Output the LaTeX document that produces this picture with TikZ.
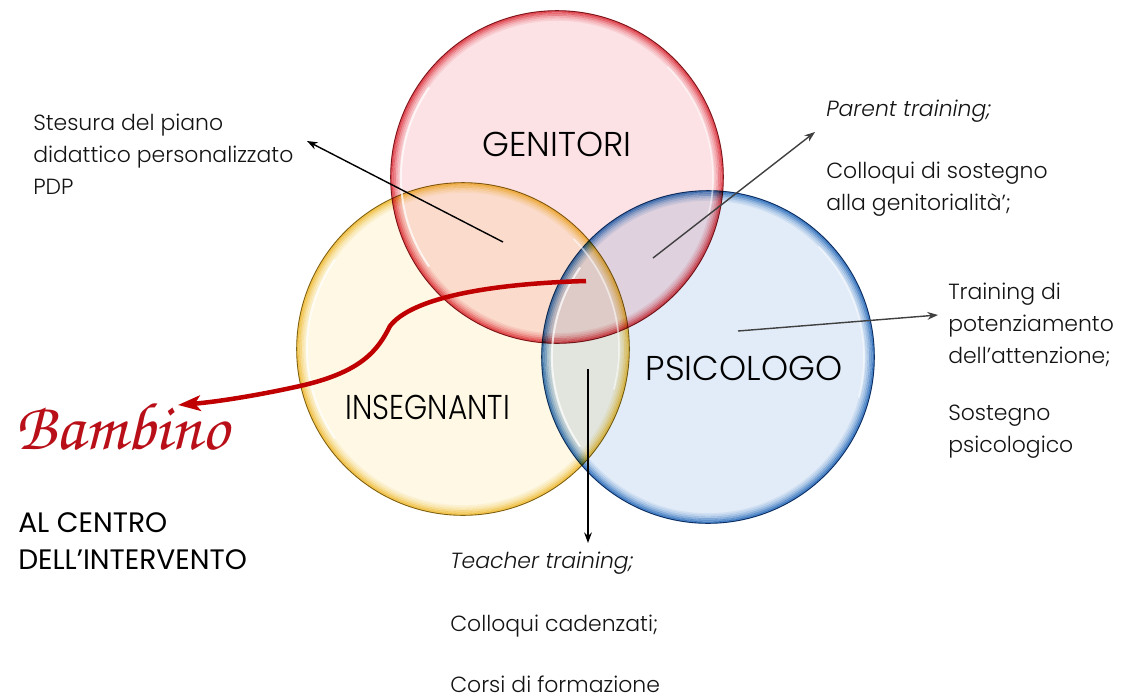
\documentclass[tikz,border=0pt]{standalone}
\usepackage[T1]{fontenc}
\usepackage{fontspec}
\IfFontExistsTF{Poppins Light}{%
  \IfFontExistsTF{Poppins Light Italic}{%
    \setmainfont{Poppins Light}[ItalicFont={Poppins Light Italic}]}{%
    \setmainfont{Poppins Light}}}{%
  \setmainfont{Poppins}}
\newfontfamily\popreg{Poppins}[Ligatures=TeX]
\usetikzlibrary{arrows.meta,calc}
\definecolor{pinkF}{RGB}{252,226,229}
\definecolor{creamF}{RGB}{254,248,228}
\definecolor{blueF}{RGB}{226,236,248}
\definecolor{redRim}{RGB}{228,70,82}
\definecolor{yelRim}{RGB}{242,200,70}
\definecolor{bluRim}{RGB}{60,130,200}
\definecolor{redEdge}{RGB}{130,40,45}
\definecolor{yelEdge}{RGB}{130,110,40}
\definecolor{bluEdge}{RGB}{30,65,110}
\definecolor{bamred}{RGB}{185,15,25}
\definecolor{curvered}{RGB}{192,0,0}
\definecolor{txtgray}{RGB}{20,20,20}
\newcommand\glossyfill[5]{% name, x, y, fill, rim
  \node[circle, minimum size=8.35cm, inner sep=0pt, fill=#4] (#1) at (#2,#3) {};
  \foreach \d/\o in {0.6/0.9,1.8/0.7,3.0/0.5,4.2/0.33,5.4/0.2,6.6/0.1}
    \draw[#5, opacity=\o, line width=1.3pt] (#1.center) circle[radius={(118.3-\d)*1pt}];
}
\tikzset{
  txt/.style={anchor=west, inner sep=0pt, align=left, text=txtgray,
    font=\fontsize{15.6}{22.7}\selectfont},
  biglabel/.style={inner sep=0pt, font=\fontsize{24.5}{26}\selectfont, text=black},
  blackarrow/.style={-{Stealth[length=7.5pt,width=5.5pt]}, line width=1pt, black},
  grayarrow/.style={-{Stealth[length=7.5pt,width=5.5pt]}, line width=1pt, black!75},
  redarrow/.style={-{Stealth[length=16pt,width=11pt,inset=4pt]}, line width=3.2pt, curvered},
}
\begin{document}
\begin{tikzpicture}[x=0.025cm,y=-0.025cm]
\useasboundingbox (0,0) rectangle (1134,698);
\fill[white] (0,0) rectangle (1134,698);
% circles
\begin{scope}[blend group=multiply]
  \glossyfill{ins}{463}{349}{creamF}{yelRim}
  \glossyfill{gen}{557}{177}{pinkF}{redRim}
  \glossyfill{psi}{708}{357}{blueF}{bluRim}
  \draw[yelEdge, line width=0.6pt] (ins.center) circle[radius=118.3pt];
  \draw[redEdge, line width=0.6pt] (gen.center) circle[radius=118.3pt];
  \draw[bluEdge, line width=0.6pt] (psi.center) circle[radius=118.3pt];
\end{scope}
\foreach \n in {ins,gen,psi}{
  \draw[white, opacity=0.75, line width=1.4pt] (\n.center) ++(145:111pt) arc[start angle=145, end angle=215, radius=111pt];
  \draw[white, opacity=0.55, line width=1.2pt] (\n.center) ++(-15:111pt) arc[start angle=-15, end angle=45, radius=111pt];
}
% circle labels
\node[biglabel] (lgen) at (557,144) {GENITORI};
\node[biglabel] (lins) at (428,407) {\scalebox{0.86}[1]{INSEGNANTI}};
\node[biglabel] (lpsi) at (744,368) {PSICOLOGO};
% texts
\node[txt] (pdp) at (33,154) {Stesura del piano\\didattico personalizzato\\PDP};
\node[txt] (parent) at (826,111) {\itshape Parent training;};
\node[txt] (coll) at (826,189) {Colloqui di sostegno\\alla genitorialità’;};
\node[txt] (train) at (948,325) {Training di\\potenziamento\\dell’attenzione;};
\node[txt] (sost) at (948,432) {Sostegno\\psicologico};
\node[txt] (teach) at (450,563) {\itshape Teacher training;};
\node[txt] (cad) at (450,626) {Colloqui cadenzati;};
\node[txt] (corsi) at (450,684) {Corsi di formazione};
% Bambino
\node[inner sep=0pt, text=bamred, font=\fontsize{48}{50}\usefont{T1}{pzc}{m}{it}] (bamb) at (122,426) {Bambino};
\node[txt, text=black, font=\popreg\fontsize{20}{26.2}\selectfont] (centro) at (18,541) {AL CENTRO\\DELL’INTERVENTO};
% arrows
\coordinate (a1s) at (503,242); \coordinate (a1e) at (307,141);
\coordinate (a2s) at (653,258); \coordinate (a2e) at (815,132);
\coordinate (a3s) at (738,331); \coordinate (a3e) at (938,315);
\coordinate (a4s) at (588,369); \coordinate (a4e) at (588,543);
\coordinate (rs) at (586,281); \coordinate (re) at (178,405);
\draw[blackarrow] (a1s) -- (a1e);
\draw[grayarrow] (a2s) -- (a2e);
\draw[grayarrow] (a3s) -- (a3e);
\draw[blackarrow] (a4s) -- (a4e);
\draw[redarrow] (rs) .. controls (480,284) and (410,300) .. (390,326)
  .. controls (378,350) and (362,372) .. (300,386)
  .. controls (255,396) and (215,402) .. (re);
\end{tikzpicture}
\end{document}
